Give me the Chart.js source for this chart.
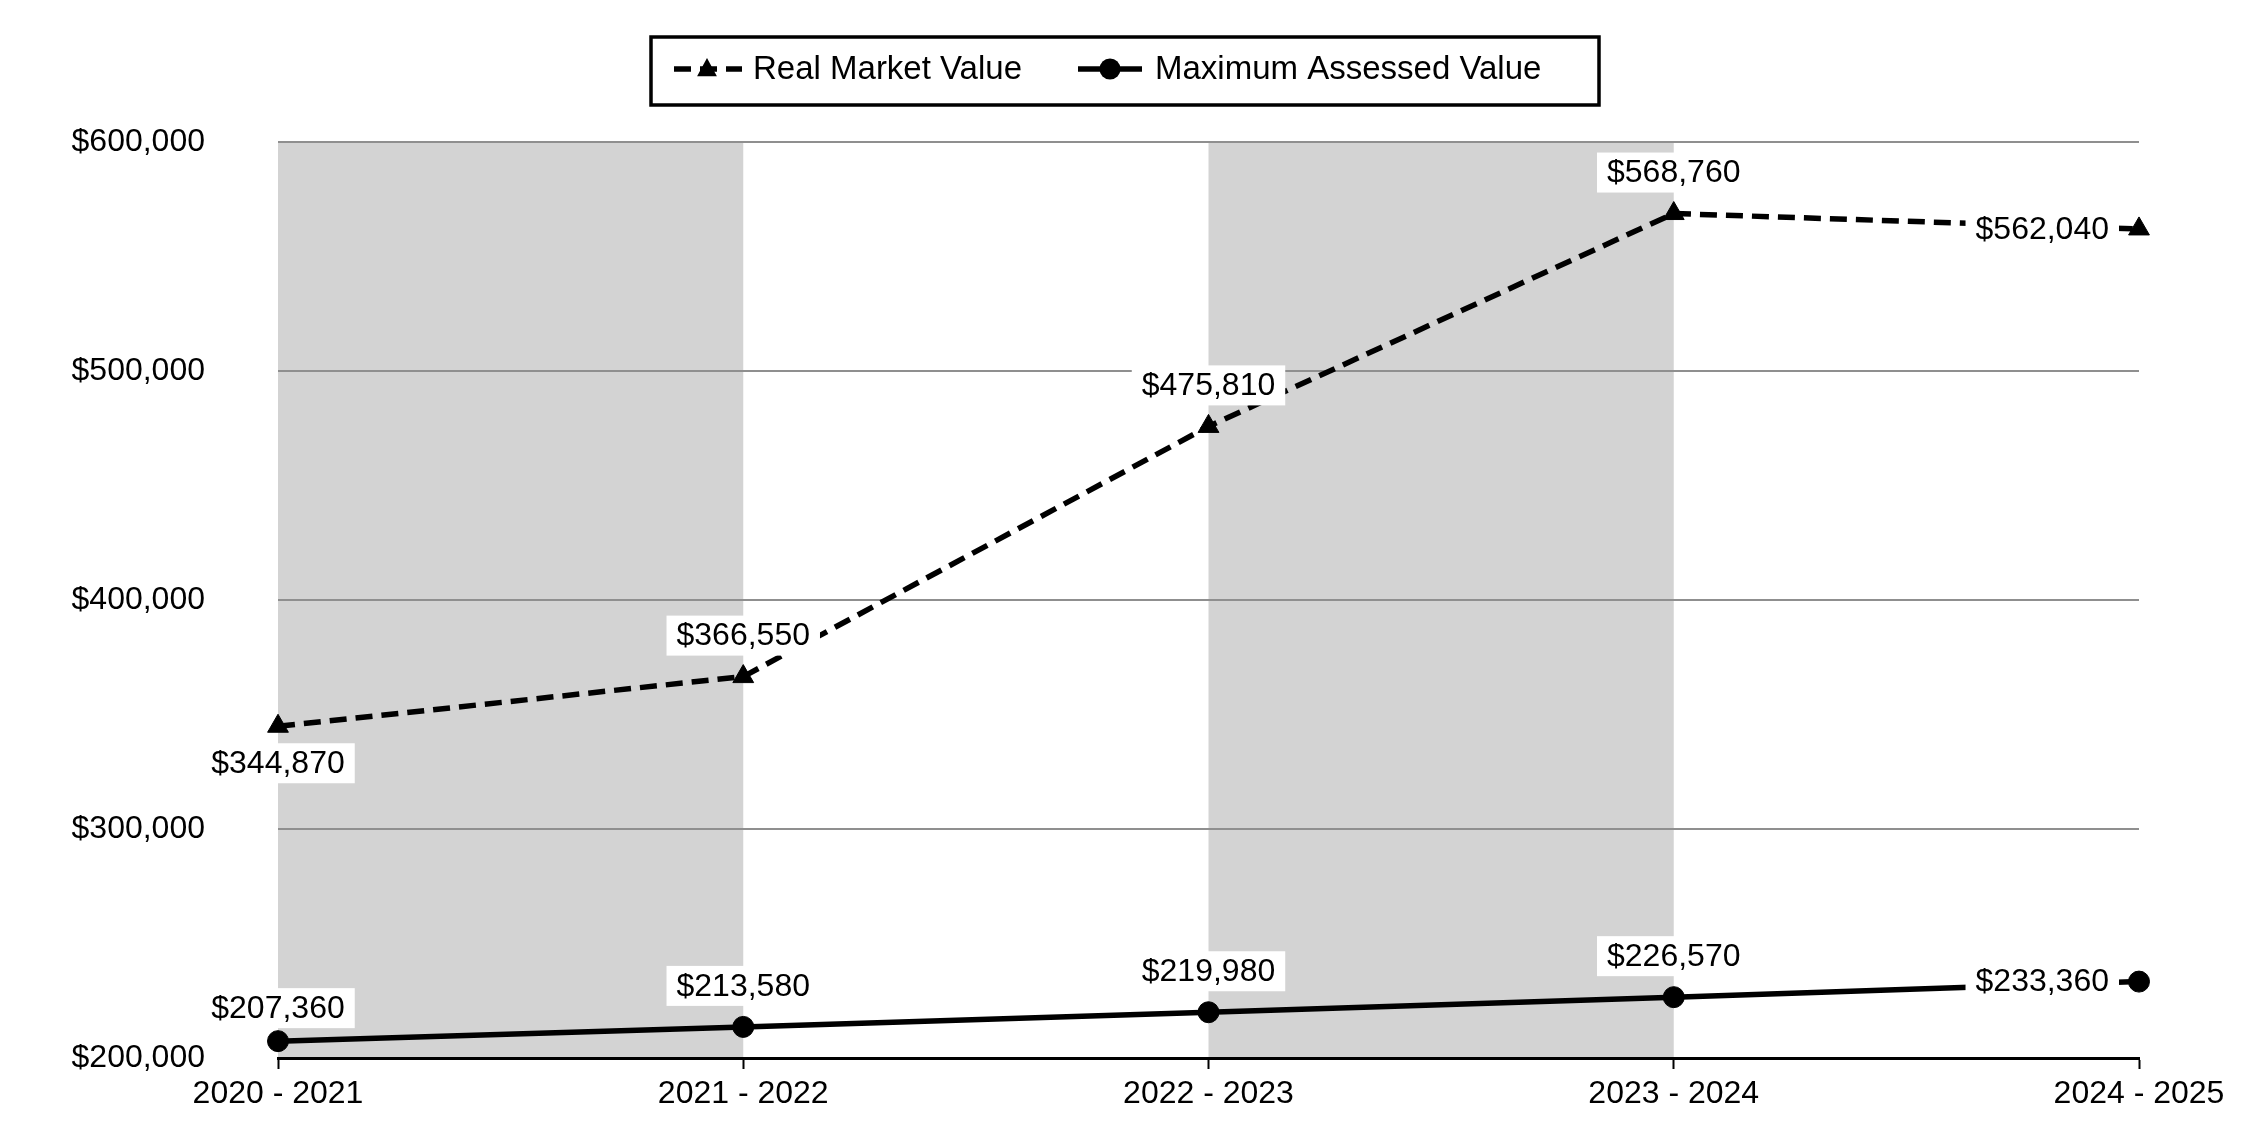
<!DOCTYPE html>
<html>
<head>
<meta charset="utf-8">
<script src="https://cdn.jsdelivr.net/npm/chart.js@4/dist/chart.umd.min.js"></script>
<style>
html,body{margin:0;padding:0;background:#fff;}
#c{display:block;}
</style>
</head>
<body>
<canvas id="c" width="2250" height="1140"></canvas>
<script>
const categories = ["2020 - 2021", "2021 - 2022", "2022 - 2023", "2023 - 2024", "2024 - 2025"];
const realMarketValue = [344870, 366550, 475810, 568760, 562040];
const maxAssessedValue = [207360, 213580, 219980, 226570, 233360];
const seriesNames = ["Real Market Value", "Maximum Assessed Value"];
const yTicks = [200000, 300000, 400000, 500000, 600000];
const shadedBands = [[0, 1], [2, 3]];
const rmvLabelPlace = ["below", "above", "above", "above", "left"];
const mavLabelPlace = ["above", "above", "above", "above", "left"];

const FONT = "'Liberation Sans', Arial, sans-serif";
const fmt = v => "$" + v.toLocaleString("en-US");

const bandPlugin = {
  id: "bands",
  beforeDraw(chart) {
    const ctx = chart.ctx;
    ctx.save();
    ctx.fillStyle = "#ffffff";
    ctx.fillRect(0, 0, chart.width, chart.height);
    const x = chart.scales.x, a = chart.chartArea;
    ctx.fillStyle = "#d3d3d3";
    shadedBands.forEach(([s, e]) => {
      const x0 = x.getPixelForValue(s), x1 = x.getPixelForValue(e);
      ctx.fillRect(x0, a.top, x1 - x0, a.bottom - a.top);
    });
    ctx.restore();
  }
};

const labelPlugin = {
  id: "valueLabels",
  afterDatasetsDraw(chart) {
    const ctx = chart.ctx;
    ctx.save();
    ctx.font = "32px " + FONT;
    ctx.textBaseline = "middle";
    const places = [rmvLabelPlace, mavLabelPlace];
    chart.data.datasets.forEach((ds, di) => {
      const meta = chart.getDatasetMeta(di);
      meta.data.forEach((pt, i) => {
        const txt = fmt(ds.data[i]);
        const w = ctx.measureText(txt).width;
        const place = places[di][i];
        let cx, cy;
        if (place === "below") { cx = pt.x; cy = pt.y + 37; }
        else if (place === "left") { cx = pt.x - 20 - 10 - w / 2; cy = pt.y; }
        else { cx = pt.x; cy = pt.y - (di === 1 && i === 0 ? 33 : 41); }
        const bw = w + 20, bh = 40;
        ctx.fillStyle = "#ffffff";
        ctx.fillRect(cx - bw / 2, cy - bh / 2, bw, bh);
        ctx.fillStyle = "#000000";
        ctx.textAlign = "center";
        ctx.fillText(txt, cx, cy + 1);
      });
    });
    ctx.restore();
  }
};

const legendPlugin = {
  id: "boxLegend",
  afterDraw(chart) {
    const ctx = chart.ctx;
    ctx.save();
    ctx.strokeStyle = "#000";
    ctx.lineWidth = 3.5;
    ctx.strokeRect(651, 37, 948, 68);
    const cy = 69;
    ctx.fillStyle = "#000";
    ctx.lineWidth = 5.5;
    ctx.setLineDash([17, 9]);
    ctx.beginPath(); ctx.moveTo(674, cy); ctx.lineTo(742, cy); ctx.stroke();
    ctx.setLineDash([]);
    const r = 11;
    ctx.beginPath();
    ctx.moveTo(707, cy - r); ctx.lineTo(707 + r * 0.9, cy + r * 0.65); ctx.lineTo(707 - r * 0.9, cy + r * 0.65); ctx.closePath(); ctx.fill();
    ctx.lineWidth = 5.5;
    ctx.beginPath(); ctx.moveTo(1078, cy); ctx.lineTo(1142, cy); ctx.stroke();
    ctx.beginPath(); ctx.arc(1110, cy, 10.5, 0, Math.PI * 2); ctx.fill();
    ctx.font = "33px " + FONT;
    ctx.textBaseline = "middle";
    ctx.textAlign = "left";
    ctx.fillText(seriesNames[0], 753, cy + 1);
    ctx.fillText(seriesNames[1], 1155, cy + 1);
    ctx.restore();
  }
};

new Chart(document.getElementById("c"), {
  type: "line",
  data: {
    labels: categories,
    datasets: [
      {
        label: seriesNames[0],
        data: realMarketValue,
        borderColor: "#000",
        backgroundColor: "#000",
        borderWidth: 5.5,
        borderDash: [17, 9],
        pointStyle: "triangle",
        pointRadius: 12,
        pointBorderWidth: 1,
        pointBackgroundColor: "#000",
        pointBorderColor: "#000",
        tension: 0,
        fill: false
      },
      {
        label: seriesNames[1],
        data: maxAssessedValue,
        borderColor: "#000",
        backgroundColor: "#000",
        borderWidth: 5.5,
        pointStyle: "circle",
        pointRadius: 10.5,
        pointBorderWidth: 1,
        pointBackgroundColor: "#000",
        pointBorderColor: "#000",
        tension: 0,
        fill: false
      }
    ]
  },
  options: {
    responsive: false,
    animation: false,
    devicePixelRatio: 1,
    layout: { padding: { left: 0, right: 111, top: 142, bottom: 0 } },
    plugins: { legend: { display: false }, tooltip: { enabled: false } },
    scales: {
      x: {
        type: "category",
        offset: false,
        afterFit(s) { s.height = 82; },
        grid: { drawOnChartArea: false, drawTicks: true, tickLength: 11, tickColor: "#000", tickWidth: 2 },
        border: { display: true, color: "#000", width: 3 },
        ticks: { color: "#000", font: { family: FONT, size: 32 }, padding: 6, maxRotation: 0, autoSkip: false }
      },
      y: {
        min: yTicks[0],
        max: yTicks[yTicks.length - 1],
        afterFit(s) { s.width = 278; },
        afterBuildTicks(s) { s.ticks = yTicks.map(v => ({ value: v })); },
        grid: { color: "#8f8f8f", lineWidth: 2, drawTicks: true, tickLength: 73, tickColor: "rgba(0,0,0,0)" },
        border: { display: false },
        ticks: { color: "#000", font: { family: FONT, size: 32 }, padding: 0, callback: v => fmt(v) }
      }
    }
  },
  plugins: [bandPlugin, labelPlugin, legendPlugin]
});
</script>
</body>
</html>
